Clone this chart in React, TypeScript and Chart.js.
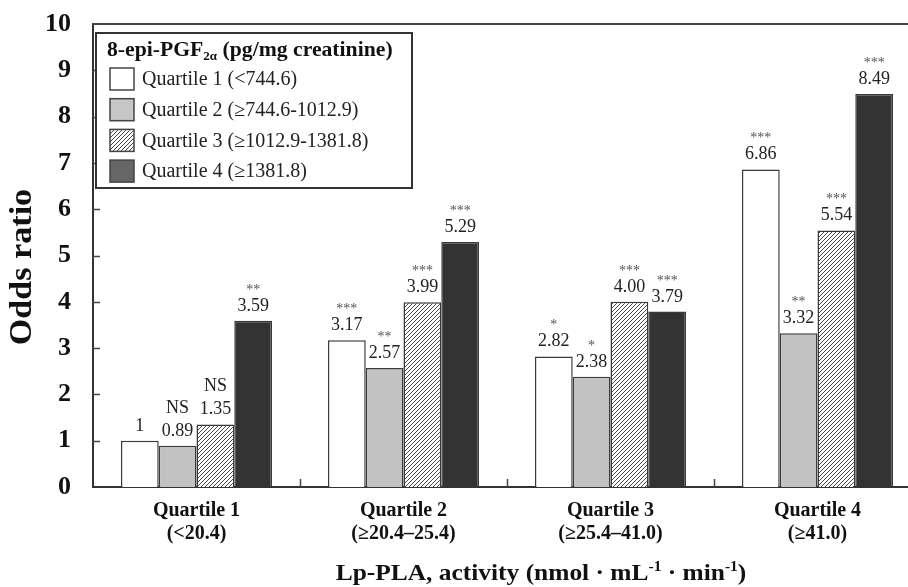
import React, { useEffect, useRef } from "react";
import { Chart, registerables } from "chart.js";

Chart.register(...registerables);

// ---- data ----
const categories: string[][] = [
  ["Quartile 1", "(<20.4)"],
  ["Quartile 2", "(≥20.4–25.4)"],
  ["Quartile 3", "(≥25.4–41.0)"],
  ["Quartile 4", "(≥41.0)"],
];
const seriesNames = [
  "Quartile 1 (<744.6)",
  "Quartile 2 (≥744.6-1012.9)",
  "Quartile 3 (≥1012.9-1381.8)",
  "Quartile 4 (≥1381.8)",
];
const q1Values = [1, 3.17, 2.82, 6.86];
const q2Values = [0.89, 2.57, 2.38, 3.32];
const q3Values = [1.35, 3.99, 4.0, 5.54];
const q4Values = [3.59, 5.29, 3.79, 8.49];
const q1Text = ["1", "3.17", "2.82", "6.86"];
const q2Text = ["0.89", "2.57", "2.38", "3.32"];
const q3Text = ["1.35", "3.99", "4.00", "5.54"];
const q4Text = ["3.59", "5.29", "3.79", "8.49"];
const q1Sig = ["", "***", "*", "***"];
const q2Sig = ["NS", "**", "*", "**"];
const q3Sig = ["NS", "***", "***", "***"];
const q4Sig = ["**", "***", "***", "***"];
const yTicks = [0, 1, 2, 3, 4, 5, 6, 7, 8, 9, 10];
const legendTitleMain = "8-epi-PGF";
const legendTitleSub = "2α";
const legendTitleRest = " (pg/mg creatinine)";
const yTitle = "Odds ratio";
const xTitleParts: [string, boolean][] = [
  ["Lp-PLA, activity (nmol · mL", false],
  ["-1", true],
  [" · min", false],
  ["-1", true],
  [")", false],
];

const SERIF = '"Liberation Serif", "Times New Roman", serif';

function makeHatch(): CanvasPattern | string {
  const s = 4;
  const c = document.createElement("canvas");
  c.width = s;
  c.height = s;
  const g = c.getContext("2d");
  if (!g) return "#ddd";
  g.fillStyle = "#ffffff";
  g.fillRect(0, 0, s, s);
  g.strokeStyle = "#4a4a4a";
  g.lineWidth = 1;
  g.beginPath();
  g.moveTo(0, s);
  g.lineTo(s, 0);
  g.moveTo(-1, 1);
  g.lineTo(1, -1);
  g.moveTo(s - 1, s + 1);
  g.lineTo(s + 1, s - 1);
  g.stroke();
  return g.createPattern(c, "repeat") || "#ddd";
}

export default function App() {
  const ref = useRef<HTMLCanvasElement | null>(null);

  useEffect(() => {
    const canvas = ref.current;
    if (!canvas) return;
    const hatch = makeHatch();
    const fills: (string | CanvasPattern)[] = ["#ffffff", "#c2c2c2", hatch, "#333333"];
    const swatchFills: (string | CanvasPattern)[] = ["#ffffff", "#c6c6c6", hatch, "#666666"];
    const texts = [q1Text, q2Text, q3Text, q4Text];
    const sigs = [q1Sig, q2Sig, q3Sig, q4Sig];

    const overlay = {
      id: "overlay",
      afterDraw(chart: any) {
        const ctx: CanvasRenderingContext2D = chart.ctx;
        const { left, right, top, bottom } = chart.chartArea;
        const xs = chart.scales.x;
        const ys = chart.scales.y;
        ctx.save();
        ctx.strokeStyle = "#444";
        ctx.lineWidth = 2;
        ctx.beginPath();
        ctx.moveTo(left, top);
        ctx.lineTo(right, top);
        ctx.stroke();
        ctx.lineWidth = 1.5;
        ctx.beginPath();
        yTicks.forEach((v) => {
          if (v === 0 || v === 10) return;
          const y = Math.round(ys.getPixelForValue(v)) + 0.5;
          ctx.moveTo(left, y);
          ctx.lineTo(left + 7, y);
        });
        for (let i = 1; i < categories.length; i++) {
          const x = Math.round((xs.getPixelForValue(i - 1) + xs.getPixelForValue(i)) / 2) + 0.5;
          ctx.moveTo(x, bottom);
          ctx.lineTo(x, bottom - 8);
        }
        ctx.stroke();

        // value labels
        ctx.textAlign = "center";
        ctx.textBaseline = "alphabetic";
        for (let d = 0; d < 4; d++) {
          const meta = chart.getDatasetMeta(d);
          meta.data.forEach((el: any, i: number) => {
            const base = el.y - 10;
            ctx.fillStyle = "#222";
            ctx.font = `18px ${SERIF}`;
            ctx.fillText(texts[d][i], el.x, base);
            const s = sigs[d][i];
            if (s === "NS") {
              ctx.fillText(s, el.x, base - 23);
            } else if (s) {
              ctx.fillStyle = "#555";
              ctx.font = `14px ${SERIF}`;
              ctx.fillText(s, el.x, base - 17);
            }
          });
        }

        // legend
        const lx = 96, ly = 33, lw = 316, lh = 155;
        ctx.fillStyle = "#fff";
        ctx.fillRect(lx, ly, lw, lh);
        ctx.strokeStyle = "#333";
        ctx.lineWidth = 2;
        ctx.strokeRect(lx, ly, lw, lh);
        ctx.textAlign = "left";
        ctx.fillStyle = "#111";
        ctx.font = `bold 21.7px ${SERIF}`;
        let tx = 107;
        ctx.fillText(legendTitleMain, tx, 56);
        tx += ctx.measureText(legendTitleMain).width;
        ctx.font = `bold 13px ${SERIF}`;
        ctx.fillText(legendTitleSub, tx, 60);
        tx += ctx.measureText(legendTitleSub).width;
        ctx.font = `bold 21.7px ${SERIF}`;
        ctx.fillText(legendTitleRest, tx, 56);
        seriesNames.forEach((name, i) => {
          const sy = 68 + i * 30.7;
          ctx.fillStyle = swatchFills[i] as any;
          ctx.fillRect(110, sy, 24, 22);
          ctx.strokeStyle = "#444";
          ctx.lineWidth = 1.5;
          ctx.strokeRect(110, sy, 24, 22);
          ctx.fillStyle = "#222";
          ctx.font = `20px ${SERIF}`;
          ctx.textBaseline = "middle";
          ctx.fillText(name, 142, sy + 12);
          ctx.textBaseline = "alphabetic";
        });

        // y title
        ctx.save();
        ctx.translate(23, 267);
        ctx.rotate(-Math.PI / 2);
        ctx.scale(1.1, 1);
        ctx.textAlign = "center";
        ctx.textBaseline = "middle";
        ctx.fillStyle = "#111";
        ctx.font = `bold 31px ${SERIF}`;
        ctx.fillText(yTitle, 0, 0);
        ctx.restore();

        // x title
        const mainFont = `bold 23px ${SERIF}`;
        const supFont = `bold 14px ${SERIF}`;
        const sx = 1.105;
        let total = 0;
        xTitleParts.forEach(([t, sup]) => {
          ctx.font = sup ? supFont : mainFont;
          total += ctx.measureText(t).width;
        });
        ctx.save();
        ctx.translate(541 - (total * sx) / 2, 0);
        ctx.scale(sx, 1);
        let x = 0;
        ctx.textAlign = "left";
        ctx.fillStyle = "#111";
        xTitleParts.forEach(([t, sup]) => {
          ctx.font = sup ? supFont : mainFont;
          ctx.fillText(t, x, sup ? 571 : 580);
          x += ctx.measureText(t).width;
        });
        ctx.restore();
        ctx.restore();
      },
    };

    const chart = new Chart(canvas, {
      type: "bar",
      data: {
        labels: categories as any,
        datasets: [q1Values, q2Values, q3Values, q4Values].map((vals, i) => ({
          label: seriesNames[i],
          data: vals,
          backgroundColor: fills[i] as any,
          borderColor: "#3a3a3a",
          borderWidth: 1.5,
          barPercentage: 1,
          categoryPercentage: 0.73,
        })),
      },
      options: {
        responsive: false,
        animation: false,
        layout: { padding: { top: 24, left: 0, right: 0, bottom: 0 } },
        plugins: { legend: { display: false }, tooltip: { enabled: false }, title: { display: false } },
        scales: {
          x: {
            grid: { display: false, drawTicks: false },
            border: { display: true, color: "#333", width: 2 },
            ticks: {
              color: "#111",
              font: { family: SERIF, size: 20, weight: "bold", lineHeight: 1.15 },
              padding: 12,
              maxRotation: 0,
              autoSkip: false,
            },
            afterFit: (s: any) => {
              s.height = 100;
            },
          },
          y: {
            min: 0,
            max: 10,
            grid: { display: false, drawTicks: false },
            border: { display: true, color: "#333", width: 2 },
            ticks: {
              stepSize: 1,
              color: "#111",
              font: { family: SERIF, size: 26, weight: "bold", lineHeight: 0.1 },
              padding: 22,
              callback: (v: any) => String(v),
            },
            afterFit: (s: any) => {
              s.width = 93;
            },
          },
        },
      },
      plugins: [overlay],
    });
    return () => chart.destroy();
  }, []);

  return (
    <div
      style={{
        position: "fixed",
        left: 0,
        top: 0,
        width: 908,
        height: 587,
        overflow: "hidden",
        background: "#fff",
      }}
    >
      <canvas ref={ref} width={921} height={587} style={{ display: "block" }} />
    </div>
  );
}
